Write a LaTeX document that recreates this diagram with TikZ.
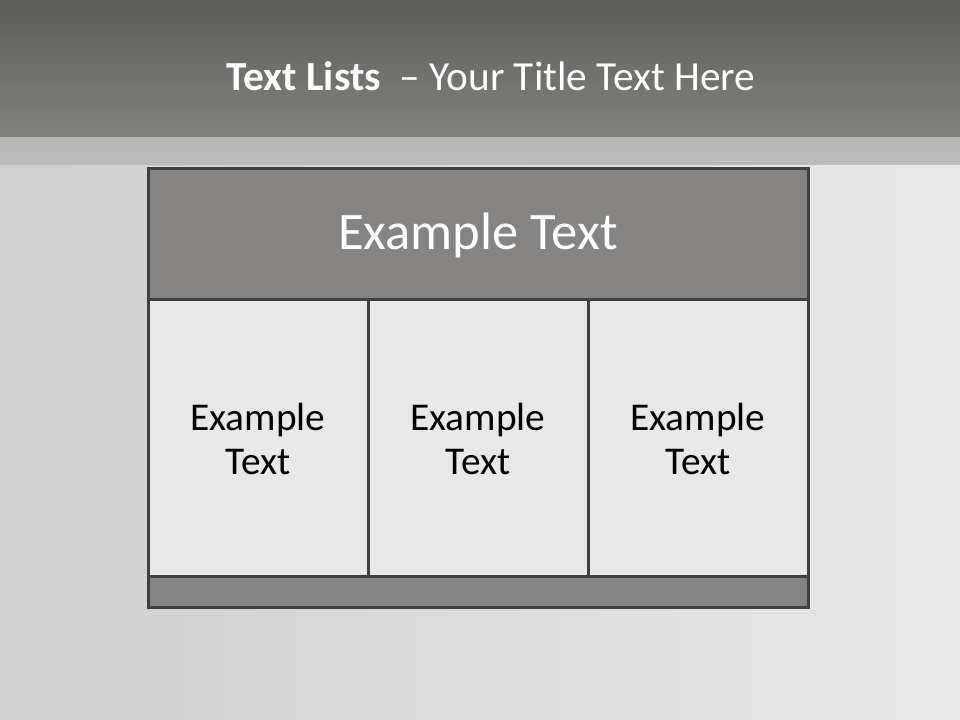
\documentclass[tikz,border=0pt]{standalone}
\usepackage{fontspec}
\setmainfont{Carlito}
\usepackage{tikz}
\usetikzlibrary{positioning}
\definecolor{barc}{RGB}{133,132,130}
\definecolor{cellc}{RGB}{232,232,232}
\definecolor{edgec}{RGB}{64,64,64}
\definecolor{topc}{RGB}{92,92,90}
\definecolor{midc}{RGB}{131,130,127}
\definecolor{stripc}{RGB}{188,188,188}

\begin{document}
\begin{tikzpicture}[
  x=0.75pt, y=0.75pt,
  frame/.style={draw=edgec, line width=2.25pt, inner sep=0pt, outer sep=0pt, align=center},
  head/.style={frame, fill=barc, text=white, minimum width=495pt, minimum height=99pt, font=\fontsize{39.5}{47}\selectfont},
  cell/.style={frame, fill=cellc, text=black, minimum width=165pt, minimum height=207.75pt, font=\fontsize{29.5}{33}\selectfont},
  foot/.style={frame, fill=barc, minimum width=495pt, minimum height=23.25pt}
]
\useasboundingbox (0,0) rectangle (960,720);

% background
\shade[left color=black!19, right color=black!9] (0,0) rectangle (960,555);
\shade[top color=stripc!96!black, bottom color=stripc] (0,555) rectangle (960,583);
\shade[top color=topc, bottom color=midc] (0,583) rectangle (960,720);

\node[text=white, font=\fontsize{31}{37}\selectfont] (title) at (491,644)
  {\textbf{Text Lists}\ \ -- Your Title Text Here};

\node[head] (hdr) at (478,485) {Example Text};
\node[cell] (c1) at (258,281.5) {Example\\Text};
\node[cell] (c2) at (478,281.5) {Example\\Text};
\node[cell] (c3) at (698,281.5) {Example\\Text};
\node[foot] (bar) at (478,127.5) {};
\end{tikzpicture}
\end{document}
